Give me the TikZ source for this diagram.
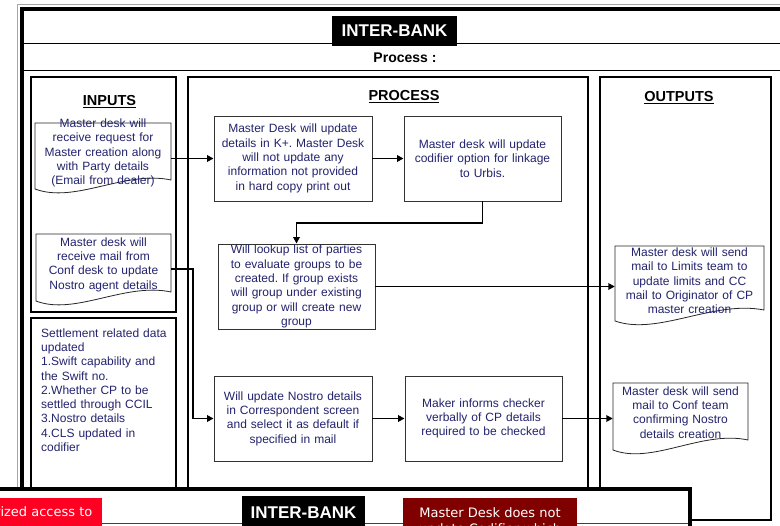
\documentclass[tikz,border=0pt]{standalone}
\usepackage{fontspec}
\setmainfont{Liberation Sans}
\newfontfamily\slidefont{DejaVu Sans}
\usetikzlibrary{arrows.meta,calc}
\definecolor{inkblue}{RGB}{35,35,110}
\definecolor{alertred}{RGB}{255,0,34}
\definecolor{deepred}{RGB}{128,0,0}
\definecolor{halo}{RGB}{165,165,165}
\frenchspacing

\begin{document}
\begin{tikzpicture}[x=1pt,y=-1pt,
  body/.style={text=inkblue,font=\fontsize{12}{14.3}\selectfont,align=center,inner sep=0pt},
  stepbox/.style={body,draw=black!80,line width=0.9pt,fill=white,minimum width=157,minimum height=85,text width=150},
  docline/.style={draw=black!85,line width=0.8pt,fill=white},
  panel/.style={draw=black,line width=2.6pt},
  heading/.style={font=\fontsize{14.5}{16}\selectfont\bfseries,inner sep=0pt,anchor=base},
  flow/.style={line width=1.9pt,-{Triangle[length=6.5pt,width=6.5pt]}},
  banner/.style={fill=black,text=white,font=\fontsize{17}{19}\selectfont\bfseries,inner sep=0pt},
  slidetext/.style={text=white,font=\slidefont\fontsize{13}{16}\selectfont,inner sep=0pt,align=center}
]
\useasboundingbox (0,0) rectangle (780,526);
\clip (0,0) rectangle (780,526);

% outer frame of the slide
\draw[halo,line width=1pt] (17,487) -- (17,5) -- (782,5);
\draw[line width=4pt] (21.5,487) -- (21.5,9) -- (782,9);
\draw[line width=0.9pt] (24,43) -- (782,43);
\draw[line width=0.9pt] (24,70) -- (782,70);
\node[banner,minimum width=125,minimum height=30] (title) at (394.5,31) {INTER-BANK};
\node[font=\fontsize{14}{16}\selectfont\bfseries,inner sep=0pt,anchor=base] (sub) at (405,63) {Process :};

% the three columns
\draw[panel] (31,77) rectangle (176,312);
\draw[panel] (31,318) rectangle (176,500);
\draw[panel] (188,77) rectangle (588,500);
\draw[panel] (600,77) rectangle (771,520);
\node[heading] (hin) at (109.5,106) {\underline{INPUTS}};
\node[heading] (hpr) at (404,101) {\underline{PROCESS}};
\node[heading] (hout) at (679,102) {\underline{OUTPUTS}};

% document shapes (inputs and outputs)
\path[docline] (35,123) -- (171,123) -- (171,180) .. controls (125,170) and (75,204) .. (35,189) -- cycle;
\path[docline] (36,234) -- (171,234) -- (171,292) .. controls (125,282) and (75,316) .. (36,301) -- cycle;
\path[docline] (615,246) -- (764,246) -- (764,310) .. controls (713,300) and (658,336) .. (615,321) -- cycle;
\path[docline] (613,383) -- (748,383) -- (748,440) .. controls (702,430) and (652,465) .. (613,450) -- cycle;

\node[body,text width=136] (in1) at (103,153) {Master desk will\\receive request for\\Master creation along\\with Party details\\(Email from dealer)};
\node[body,text width=135] (in2) at (103.5,264.5) {Master desk will\\receive mail from\\Conf desk to update\\Nostro agent details};
\node[body,text width=149] (out1) at (689.5,281) {Master desk will send\\mail to Limits team to\\update limits and CC\\mail to Originator of CP\\master creation};
\node[body,text width=135] (out2) at (680.5,412.5) {Master desk will send\\mail to Conf team\\confirming Nostro\\details creation};

\node[body,align=left,anchor=north west,text width=132] (settle) at (41,328.3) {Settlement related data\\updated\\1.Swift capability and\\the Swift no.\\2.Whether CP to be\\settled through CCIL\\3.Nostro details\\4.CLS updated in\\codifier};

% process steps
\node[stepbox,minimum width=158] (b1) at (293,158.5) {Master Desk will update\\details in K+. Master Desk\\will not update any\\information not provided\\in hard copy print out};
\node[stepbox] (b2) at (482.5,158.5) {Master desk will update\\codifier option for linkage\\to Urbis.};
\node[stepbox] (b3) at (296.5,286.5) {Will lookup list of parties\\to evaluate groups to be\\created. If group exists\\will group under existing\\group or will create new\\group};
\node[stepbox,minimum width=158] (b4) at (293,418.5) {Will update Nostro details\\in Correspondent screen\\and select it as default if\\specified in mail};
\node[stepbox] (b5) at (483.5,418.5) {Maker informs checker\\verbally of CP details\\required to be checked};

% connectors
\draw[flow] (in1.east |- b1.west) -- (b1.west);
\draw[flow] (b1.east) -- (b2.west);
\draw[flow] (b2.south) -- ++(0,22) -| (b3.north);
\draw[flow] (b3.east) -- (b3.east -| out1.west);
\draw[flow] ($(in2.east)+(0,4.5)$) -| ($(b4.west)+(-21,0)$) -- (b4.west);
\draw[flow] (b4.east) -- (b5.west);
\draw[flow] (b5.east) -- (b5.east -| out2.west);

% next slide lying over the lower edge
\fill[white] (0,489) rectangle (690,530);
\draw[line width=0.8pt,black!75] (0,523) -- (690,523);
\fill[alertred] (-60,498) rectangle (102,540);
\node[slidetext,anchor=east] (alert) at (92.5,512) {Unauthorized access to};
\node[banner,minimum width=123,minimum height=34] (title2) at (303.5,513) {INTER-BANK};
\fill[deepred] (403,498) rectangle (577,540);
\node[slidetext,anchor=north] (note) at (490,507.3) {Master Desk does not\\update Codifier which};
\draw[line width=3.6pt,line join=miter] (0,489) -- (690,489) -- (690,530);
\end{tikzpicture}
\end{document}
